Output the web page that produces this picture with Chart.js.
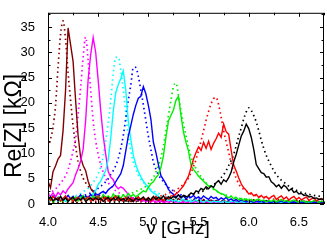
<!DOCTYPE html>
<html>
<head>
<meta charset="utf-8">
<script src="https://cdn.jsdelivr.net/npm/chart.js@4.4.1/dist/chart.umd.min.js"></script>
<style>
  html, body { margin: 0; padding: 0; background: #fff; }
  canvas { display: block; }
</style>
</head>
<body>
<canvas id="reChart" width="327" height="244"></canvas>
<script>
// frequency grid [GHz]
var freq = [
  4, 4.025, 4.05, 4.075, 4.1, 4.125, 4.15, 4.175, 4.2, 4.225,
  4.25, 4.275, 4.3, 4.325, 4.35, 4.375, 4.4, 4.425, 4.45, 4.475,
  4.5, 4.525, 4.55, 4.575, 4.6, 4.625, 4.65, 4.675, 4.7, 4.725,
  4.75, 4.775, 4.8, 4.825, 4.85, 4.875, 4.9, 4.925, 4.95, 4.975,
  5, 5.025, 5.05, 5.075, 5.1, 5.125, 5.15, 5.175, 5.2, 5.225,
  5.25, 5.275, 5.3, 5.325, 5.35, 5.375, 5.4, 5.425, 5.45, 5.475,
  5.5, 5.525, 5.55, 5.575, 5.6, 5.625, 5.65, 5.675, 5.7, 5.725,
  5.75, 5.775, 5.8, 5.825, 5.85, 5.875, 5.9, 5.925, 5.95, 5.975,
  6, 6.025, 6.05, 6.075, 6.1, 6.125, 6.15, 6.175, 6.2, 6.225,
  6.25, 6.275, 6.3, 6.325, 6.35, 6.375, 6.4, 6.425, 6.45, 6.475,
  6.5, 6.525, 6.55, 6.575, 6.6, 6.625, 6.65, 6.675, 6.7, 6.725,
  6.75
];

// measured Re[Z] [kOhm] (solid lines)
var brownMeas = [
  4.5, 3.2, 6.4, 7.5, 8.9, 9.6, 14.5, 22.5, 34.8, 31.5,
  28.2, 20.5, 13.5, 9.2, 7.6, 6.6, 4.5, 3.1, 2.4, 1.6,
  1.5, 1.0, 1.6, 0.9, 1.3, 0.7, 1.2, 1.6, 0.8, 1.1,
  0.6, 1.3, 0.9, 0.5, 1.2, 0.8, 1.4, 0.6, 1.0, 0.7,
  1.1, 0.5, 0.9, 1.3, 0.6, 1.0, 0.4, 0.8, 1.2, 0.6,
  0.9, 0.4, 1.1, 0.7, 0.5, 1.0, 0.6, 0.3, 0.8, 0.5,
  0.7, 0.4, 0.9, 0.3, 0.6, 0.8, 0.4, 0.7, 0.3, 0.5,
  0.8, 0.4, 0.6, 0.3, 0.7, 0.5, 0.3, 0.6, 0.4, 0.7,
  0.3, 0.5, 0.8, 0.4, 0.6, 0.3, 0.5, 0.7, 0.4, 0.3,
  0.6, 0.4, 0.7, 0.3, 0.5, 0.4, 0.6, 0.3, 0.5, 0.7,
  0.4, 0.3, 0.6, 0.4, 0.5, 0.3, 0.6, 0.4, 0.3, 0.5,
  0.4
];
var magentaMeas = [
  2.0, 1.5, 2.2, 1.4, 2.3, 1.8, 2.6, 2.1, 3.0, 3.6,
  4.2, 5.8, 7.0, 8.5, 10.8, 16.5, 24.6, 29.5, 32.9, 30,
  24.5, 18.5, 13.5, 9.8, 6.4, 5.3, 4.8, 3.6, 3.0, 3.4,
  3.1, 2.5, 1.9, 1.4, 1.1, 0.8, 0.9, 0.6, 0.7, 0.5,
  0.6, 0.4, 0.7, 0.3, 0.5, 0.6, 0.3, 0.5, 0.4, 0.6,
  0.3, 0.5, 0.4, 0.2, 0.5, 0.3, 0.6, 0.4, 0.3, 0.5,
  0.2, 0.4, 0.3, 0.5, 0.2, 0.4, 0.3, 0.2, 0.4, 0.3,
  0.5, 0.2, 0.3, 0.4, 0.2, 0.3, 0.5, 0.2, 0.4, 0.3,
  0.2, 0.4, 0.3, 0.2, 0.3, 0.4, 0.2, 0.3, 0.2, 0.4,
  0.3, 0.2, 0.3, 0.4, 0.2, 0.3, 0.2, 0.3, 0.4, 0.2,
  0.3, 0.2, 0.4, 0.2, 0.3, 0.2, 0.3, 0.2, 0.3, 0.2,
  0.3
];
var cyanMeas = [
  0.8, 1.2, 0.6, 1.0, 1.4, 0.7, 1.1, 0.5, 0.9, 1.3,
  0.8, 1.2, 0.7, 1.5, 1.0, 1.4, 1.3, 1.6, 2.0, 2.6,
  3.9, 4.5, 5.6, 6.6, 8.8, 13, 18.3, 22, 23.6, 24.8,
  26.3, 22.5, 16.4, 12.8, 9.6, 7.8, 6.4, 5.4, 4.5, 3.8,
  3.3, 2.6, 2.2, 1.9, 1.5, 1.2, 0.8, 1.1, 0.6, 0.9,
  0.5, 0.8, 0.4, 0.7, 0.9, 0.5, 0.7, 0.4, 0.6, 0.8,
  0.4, 0.6, 0.3, 0.7, 0.5, 0.3, 0.6, 0.4, 0.5, 0.3,
  0.6, 0.4, 0.3, 0.5, 0.6, 0.3, 0.4, 0.5, 0.3, 0.4,
  0.5, 0.3, 0.4, 0.6, 0.3, 0.4, 0.3, 0.5, 0.4, 0.3,
  0.4, 0.5, 0.3, 0.4, 0.3, 0.5, 0.3, 0.4, 0.3, 0.4,
  0.3, 0.4, 0.5, 0.3, 0.4, 0.3, 0.4, 0.3, 0.4, 0.3,
  0.4
];
var blueMeas = [
  1.3, 0.8, 1.6, 1.1, 0.7, 1.4, 0.9, 1.2, 1.7, 1.0,
  1.5, 0.8, 1.3, 1.8, 1.1, 1.6, 1.2, 1.9, 1.4, 2.0,
  1.8, 2.2, 2.5, 2.1, 2.8, 3.2, 3.6, 4.4, 5.2, 6.0,
  7.6, 10.5, 13.4, 15.5, 17.7, 19.5, 20.9, 21.3, 23.2, 21.8,
  19.5, 16.8, 12.2, 10.2, 7.8, 5.6, 4.8, 4.0, 2.9, 2.3,
  1.9, 1.4, 1.8, 1.2, 1.6, 1.0, 1.5, 1.3, 1.7, 1.1,
  1.4, 1.0, 1.6, 1.2, 0.9, 1.5, 1.1, 1.3, 0.8, 1.2,
  0.9, 1.3, 0.7, 1.0, 0.6, 0.9, 0.5, 0.8, 0.6, 0.4,
  0.7, 0.5, 0.3, 0.6, 0.4, 0.5, 0.3, 0.6, 0.4, 0.3,
  0.5, 0.3, 0.4, 0.6, 0.3, 0.4, 0.5, 0.3, 0.4, 0.3,
  0.5, 0.3, 0.4, 0.3, 0.5, 0.3, 0.4, 0.3, 0.4, 0.3,
  0.4
];
var greenMeas = [
  0.6, 1.1, 0.4, 0.9, 1.3, 0.5, 1.0, 1.5, 0.7, 1.2,
  0.8, 1.4, 0.6, 1.1, 1.7, 0.9, 1.3, 0.7, 1.6, 1.0,
  1.4, 0.8, 1.9, 1.2, 1.6, 1.0, 2.0, 1.3, 1.7, 1.1,
  1.8, 1.3, 2.1, 1.5, 1.9, 1.4, 1.8, 2.2, 2.6, 2.4,
  3.3, 4.0, 4.4, 5.2, 5.8, 7.2, 9.5, 13.2, 16.4, 17.5,
  18.6, 20.5, 21.3, 17.5, 14.2, 12.2, 10.5, 7.6, 6.8, 6.2,
  5.5, 5.0, 4.5, 4.0, 3.5, 3.6, 3.0, 2.7, 2.3, 2.0,
  1.9, 1.5, 1.2, 1.6, 1.0, 1.3, 0.8, 1.1, 0.7, 1.0,
  0.6, 0.9, 0.5, 0.8, 1.0, 0.6, 0.8, 0.4, 0.7, 0.5,
  0.8, 0.4, 0.6, 0.9, 0.5, 0.7, 0.4, 0.6, 0.8, 0.5,
  0.4, 0.7, 0.5, 0.3, 0.6, 0.4, 0.7, 0.5, 0.3, 0.6,
  0.4
];
var redMeas = [
  1.2, 0.7, 1.5, 0.9, 1.3, 0.6, 1.1, 1.6, 0.8, 1.2,
  0.5, 1.0, 1.4, 0.7, 1.2, 0.9, 1.5, 0.6, 1.1, 0.8,
  1.3, 0.7, 1.0, 1.4, 0.6, 1.2, 0.8, 1.5, 0.9, 1.1,
  0.6, 1.3, 0.8, 1.2, 0.5, 1.0, 1.4, 0.7, 1.1, 0.9,
  1.3, 0.6, 1.0, 1.5, 0.8, 1.2, 0.7, 1.4, 1.0, 1.6,
  1.6, 2.0, 2.4, 3.0, 3.6, 4.6, 5.5, 7.2, 8.9, 10.2,
  11.3, 10.6, 12.2, 11.0, 12.4, 10.8, 12.0, 12.9, 14.0, 13.2,
  15.8, 14.3, 13.8, 10.6, 7.7, 6.5, 5.2, 4.0, 3.2, 2.7,
  2.0, 2.2, 1.6, 1.9, 1.3, 1.7, 1.2, 1.5, 1.0, 1.4,
  1.7, 0.9, 1.3, 1.6, 1.0, 1.4, 0.8, 1.2, 1.5, 0.9,
  1.3, 0.8, 1.1, 1.4, 0.7, 1.0, 1.2, 0.6, 0.9, 1.1,
  0.7
];
var blackMeas = [
  0.9, 1.4, 0.6, 1.1, 0.8, 1.5, 0.7, 1.2, 0.5, 1.0,
  1.3, 0.6, 1.1, 0.8, 1.4, 0.5, 0.9, 1.2, 0.7, 1.3,
  0.8, 1.1, 0.5, 1.0, 1.3, 0.6, 1.2, 0.8, 1.4, 0.7,
  1.1, 0.6, 1.3, 0.9, 0.5, 1.2, 0.8, 1.0, 1.4, 0.7,
  1.2, 0.8, 1.5, 0.9, 1.3, 1.0, 1.6, 0.9, 1.4, 1.1,
  1.5, 1.2, 1.8, 1.3, 1.7, 1.4, 1.6, 2.2, 1.9, 2.6,
  2.4, 3.1, 2.8, 3.4, 3.0, 3.6, 3.3, 4.2, 4.6, 3.9,
  4.8, 4.4, 5.2, 6.3, 8.3, 9.8, 11.6, 13.4, 14.4, 15.8,
  14.9, 13.2, 10.8, 7.8, 7.0, 6.2, 6.0, 5.3, 5.4, 4.4,
  4.0, 3.4, 3.8, 3.1, 3.7, 3.3, 2.6, 3.0, 2.3, 2.5,
  2.0, 2.1, 1.7, 1.8, 1.4, 1.5, 1.1, 1.2, 0.9, 1.0,
  0.8
];

// simulated Re[Z] [kOhm] (dotted lines)
var brownModel = [
  11.2, 12.8, 15.2, 19.5, 27, 33.5, 36.2, 32.5, 26, 20.5,
  15.5, 11.5, 8.3, 6.5, 5.1, 4.2, 3.5, 3.0, 2.5, 2.1,
  1.8, 1.6, 1.4, 1.25, 1.1, 1.0, 0.9, 0.82, 0.75, 0.7,
  0.64, 0.6, 0.56, 0.52, 0.49, 0.46, 0.43, 0.41, 0.39, 0.37,
  0.35, 0.34, 0.32, 0.31, 0.3, 0.29, 0.28, 0.27, 0.26, 0.25,
  0.24, 0.23, 0.23, 0.22, 0.21, 0.21, 0.2, 0.2, 0.19, 0.19,
  0.18, 0.18, 0.17, 0.17, 0.17, 0.16, 0.16, 0.16, 0.15, 0.15,
  0.15, 0.14, 0.14, 0.14, 0.14, 0.13, 0.13, 0.13, 0.13, 0.12,
  0.12, 0.12, 0.12, 0.12, 0.11, 0.11, 0.11, 0.11, 0.11, 0.1,
  0.1, 0.1, 0.1, 0.1, 0.1, 0.095, 0.095, 0.095, 0.095, 0.095,
  0.09, 0.09, 0.09, 0.09, 0.09, 0.09, 0.09, 0.09, 0.09, 0.09,
  0.09
];
var magentaModel = [
  2.0, 2.3, 2.6, 3.0, 3.5, 4.1, 4.8, 5.6, 6.8, 8.5,
  10.5, 12.8, 17.7, 23, 29, 33, 28.4, 22.5, 16.5, 12.5,
  9.8, 7.8, 6.3, 5.1, 4.2, 3.6, 3.0, 2.6, 2.3, 2.0,
  1.8, 1.6, 1.4, 1.25, 1.1, 1.0, 0.9, 0.82, 0.75, 0.7,
  0.64, 0.6, 0.56, 0.52, 0.49, 0.46, 0.43, 0.41, 0.39, 0.37,
  0.35, 0.34, 0.32, 0.31, 0.3, 0.29, 0.28, 0.27, 0.26, 0.25,
  0.24, 0.23, 0.23, 0.22, 0.21, 0.21, 0.2, 0.2, 0.19, 0.19,
  0.18, 0.18, 0.17, 0.17, 0.17, 0.16, 0.16, 0.16, 0.15, 0.15,
  0.15, 0.14, 0.14, 0.14, 0.14, 0.13, 0.13, 0.13, 0.13, 0.12,
  0.12, 0.12, 0.12, 0.12, 0.11, 0.11, 0.11, 0.11, 0.11, 0.11,
  0.11, 0.1, 0.1, 0.1, 0.1, 0.1, 0.1, 0.1, 0.1, 0.1,
  0.1
];
var cyanModel = [
  0.5, 0.55, 0.6, 0.65, 0.7, 0.8, 0.9, 1.0, 1.1, 1.25,
  1.4, 1.6, 1.8, 2.1, 2.4, 2.8, 3.1, 3.6, 4.3, 5.0,
  6.0, 7.3, 9.5, 12.5, 16, 20.5, 25.8, 29, 29, 26.5,
  22.5, 18, 13.4, 10.5, 8.3, 6.9, 5.7, 4.9, 4.3, 3.8,
  3.3, 2.9, 2.6, 2.3, 2.1, 1.9, 1.7, 1.55, 1.45, 1.35,
  1.25, 1.15, 1.07, 1.0, 0.94, 0.88, 0.83, 0.78, 0.74, 0.7,
  0.66, 0.63, 0.6, 0.57, 0.54, 0.52, 0.5, 0.48, 0.46, 0.44,
  0.42, 0.41, 0.39, 0.38, 0.37, 0.36, 0.35, 0.34, 0.33, 0.32,
  0.31, 0.3, 0.29, 0.28, 0.28, 0.27, 0.26, 0.26, 0.25, 0.25,
  0.24, 0.24, 0.23, 0.23, 0.22, 0.22, 0.21, 0.21, 0.2, 0.2,
  0.2, 0.19, 0.19, 0.19, 0.18, 0.18, 0.18, 0.17, 0.17, 0.17,
  0.17
];
var blueModel = [
  0.4, 0.45, 0.5, 0.55, 0.6, 0.65, 0.7, 0.75, 0.8, 0.9,
  1.0, 1.1, 1.25, 1.4, 1.6, 1.8, 2.0, 2.2, 2.5, 2.8,
  3.1, 3.5, 3.9, 4.4, 5.0, 5.8, 6.6, 7.6, 9.0, 11,
  13.5, 17, 20.5, 23.5, 27, 27, 25.2, 22.5, 19.6, 16.5,
  13.4, 10.8, 8.3, 6.9, 5.8, 5.0, 4.4, 3.8, 3.3, 2.9,
  2.6, 2.3, 2.0, 1.8, 1.6, 1.45, 1.3, 1.2, 1.1, 1.0,
  0.95, 0.88, 0.82, 0.77, 0.72, 0.68, 0.64, 0.6, 0.57, 0.54,
  0.51, 0.49, 0.47, 0.45, 0.43, 0.41, 0.39, 0.38, 0.36, 0.35,
  0.34, 0.33, 0.32, 0.31, 0.3, 0.29, 0.28, 0.27, 0.27, 0.26,
  0.25, 0.25, 0.24, 0.23, 0.23, 0.22, 0.22, 0.21, 0.21, 0.2,
  0.2, 0.2, 0.19, 0.19, 0.18, 0.18, 0.18, 0.17, 0.17, 0.17,
  0.16
];
var greenModel = [
  0.3, 0.3, 0.35, 0.35, 0.4, 0.4, 0.45, 0.5, 0.5, 0.55,
  0.6, 0.65, 0.7, 0.75, 0.8, 0.85, 0.9, 0.95, 1.0, 1.0,
  1.0, 1.05, 1.1, 1.2, 1.25, 1.3, 1.4, 1.5, 1.6, 1.7,
  1.8, 1.9, 2.0, 2.1, 2.3, 2.5, 2.7, 2.9, 3.2, 3.5,
  4.0, 4.6, 5.3, 6.3, 7.6, 9.2, 11.5, 14.5, 17.5, 20.5,
  23.2, 23.9, 21.5, 18.5, 15.8, 13.5, 11.2, 9.4, 7.9, 7.0,
  6.2, 5.4, 4.8, 4.2, 3.7, 3.3, 2.9, 2.6, 2.3, 2.1,
  1.9, 1.75, 1.6, 1.45, 1.35, 1.25, 1.15, 1.05, 1.0, 0.95,
  0.9, 0.85, 0.8, 0.75, 0.7, 0.66, 0.62, 0.58, 0.55, 0.52,
  0.5, 0.48, 0.46, 0.44, 0.42, 0.4, 0.38, 0.36, 0.35, 0.34,
  0.33, 0.32, 0.31, 0.3, 0.29, 0.28, 0.27, 0.26, 0.25, 0.25,
  0.24
];
var redModel = [
  0.2, 0.2, 0.22, 0.22, 0.24, 0.25, 0.26, 0.27, 0.28, 0.3,
  0.31, 0.32, 0.34, 0.36, 0.38, 0.4, 0.42, 0.44, 0.46, 0.48,
  0.5, 0.52, 0.54, 0.56, 0.58, 0.6, 0.62, 0.65, 0.68, 0.7,
  0.72, 0.75, 0.78, 0.8, 0.83, 0.86, 0.89, 0.92, 0.95, 0.98,
  1.0, 1.1, 1.2, 1.3, 1.45, 1.6, 1.75, 1.9, 2.1, 2.3,
  2.5, 2.8, 3.1, 3.5, 3.9, 4.4, 5.1, 6.2, 7.4, 8.8,
  10.6, 12.5, 14.5, 16.5, 18.3, 19.8, 20.8, 21.1, 19.6, 17.2,
  14.5, 12.3, 10.2, 8.1, 6.4, 5.1, 4.0, 3.3, 2.9, 2.6,
  2.2, 2.0, 1.8, 1.65, 1.5, 1.4, 1.3, 1.2, 1.1, 1.0,
  0.95, 0.9, 0.85, 0.8, 0.75, 0.7, 0.66, 0.62, 0.58, 0.55,
  0.52, 0.5, 0.48, 0.46, 0.44, 0.42, 0.4, 0.38, 0.37, 0.36,
  0.35
];
var blackModel = [
  0.15, 0.15, 0.16, 0.16, 0.17, 0.17, 0.18, 0.18, 0.19, 0.19,
  0.2, 0.2, 0.21, 0.22, 0.22, 0.23, 0.24, 0.25, 0.26, 0.27,
  0.28, 0.29, 0.3, 0.31, 0.33, 0.34, 0.36, 0.38, 0.4, 0.42,
  0.44, 0.46, 0.48, 0.5, 0.53, 0.56, 0.59, 0.62, 0.66, 0.7,
  0.74, 0.78, 0.82, 0.86, 0.9, 0.95, 1.0, 1.05, 1.1, 1.15,
  1.2, 1.3, 1.4, 1.5, 1.6, 1.7, 1.8, 1.9, 2.0, 2.1,
  2.2, 2.4, 2.6, 2.9, 3.2, 3.5, 3.8, 4.2, 4.6, 5.2,
  5.8, 6.6, 7.6, 8.6, 9.8, 11.5, 13.4, 15, 16.8, 18.2,
  19.0, 18.5, 17.5, 16.2, 14.5, 12.6, 11.0, 9.6, 8.5, 7.5,
  6.6, 5.8, 5.2, 4.7, 4.3, 3.9, 3.5, 3.2, 2.9, 2.7,
  2.5, 2.3, 2.2, 2.0, 1.9, 1.8, 1.7, 1.6, 1.55, 1.5,
  1.45
];

var xTitle = 'ν [GHz]';
var yTitle = 'Re[Z] [kΩ]';

// styles
var lineColors = {
  brown: '#800000', magenta: '#ff00ff', cyan: '#00ffff', blue: '#0000ff',
  green: '#00ee00', red: '#ff0000', black: '#000000'
};
var tickFont = { family: '"Liberation Sans", Arial, sans-serif', size: 13 };

function pts(vals) {
  return freq.map(function (f, i) { return { x: f, y: vals[i] }; });
}

function meas(vals, color) {
  return { data: pts(vals), borderColor: color, borderWidth: 1.4, pointRadius: 0, tension: 0, fill: false };
}

function model(vals, color) {
  return {
    data: pts(vals), borderColor: color, borderWidth: 1.7, borderDash: [1.5, 3.2],
    pointRadius: 0, cubicInterpolationMode: 'monotone', fill: false
  };
}

// first dataset is drawn on top
var datasets = [
  meas(blackMeas, lineColors.black),
  meas(redMeas, lineColors.red),
  meas(greenMeas, lineColors.green),
  meas(blueMeas, lineColors.blue),
  meas(cyanMeas, lineColors.cyan),
  meas(magentaMeas, lineColors.magenta),
  meas(brownMeas, lineColors.brown),
  model(blackModel, lineColors.black),
  model(redModel, lineColors.red),
  model(greenModel, lineColors.green),
  model(blueModel, lineColors.blue),
  model(cyanModel, lineColors.cyan),
  model(magentaModel, lineColors.magenta),
  model(brownModel, lineColors.brown)
];

function onStep(v, step) {
  var r = v / step;
  return Math.abs(r - Math.round(r)) < 1e-6;
}

// box, inward ticks on all sides, axis titles
var framePlugin = {
  id: 'framePlugin',
  afterDatasetsDraw: function (chart) {
    var ctx = chart.ctx, a = chart.chartArea;
    var sx = chart.scales.x, sy = chart.scales.y;
    ctx.save();
    ctx.strokeStyle = '#000';
    ctx.lineWidth = 1;
    ctx.strokeRect(a.left + 0.5, a.top + 0.5, a.right - a.left - 1, a.bottom - a.top - 1);
    ctx.beginPath();
    sx.ticks.forEach(function (t) {
      if (!onStep(t.value, 0.25)) return;
      var len = onStep(t.value, 0.5) ? 4 : 2.5;
      var p = Math.round(sx.getPixelForValue(t.value)) + 0.5;
      ctx.moveTo(p, a.bottom); ctx.lineTo(p, a.bottom - len);
      ctx.moveTo(p, a.top); ctx.lineTo(p, a.top + len);
    });
    sy.ticks.forEach(function (t) {
      if (!onStep(t.value, 2.5)) return;
      var len = onStep(t.value, 5) ? 4 : 2.5;
      var p = Math.round(sy.getPixelForValue(t.value)) + 0.5;
      ctx.moveTo(a.left, p); ctx.lineTo(a.left + len, p);
      ctx.moveTo(a.right, p); ctx.lineTo(a.right - len, p);
    });
    ctx.stroke();

    ctx.fillStyle = '#000';
    ctx.textAlign = 'center';
    ctx.textBaseline = 'middle';
    ctx.font = '19px "Liberation Sans", Arial, sans-serif';
    ctx.fillText(xTitle, 178, 229);
    ctx.font = '23px "Liberation Sans", Arial, sans-serif';
    ctx.translate(15, 126);
    ctx.rotate(-Math.PI / 2);
    ctx.fillText(yTitle, 0, 0);
    ctx.restore();
  }
};

var ctx = document.getElementById('reChart').getContext('2d');

var chart = new Chart(ctx, {
  type: 'line',
  data: { datasets: datasets },
  options: {
    responsive: false,
    animation: false,
    devicePixelRatio: 1,
    layout: { padding: { top: 3, right: 2, left: 0, bottom: 0 } },
    scales: {
      x: {
        type: 'linear',
        min: 4,
        max: 6.75,
        grid: { display: false },
        border: { display: false },
        afterFit: function (s) { s.height = 40; },
        ticks: {
          stepSize: 0.25,
          includeBounds: false,
          autoSkip: false,
          maxRotation: 0,
          padding: 3,
          color: '#000',
          font: tickFont,
          callback: function (v) { return onStep(v, 0.5) ? v.toFixed(1) : ''; }
        }
      },
      y: {
        min: 0,
        max: 37.8,
        grid: { display: false },
        border: { display: false },
        afterFit: function (s) { s.width = 48; },
        ticks: {
          stepSize: 2.5,
          includeBounds: false,
          autoSkip: false,
          padding: 5,
          color: '#000',
          font: tickFont,
          callback: function (v) { return onStep(v, 5) ? String(v) : ''; }
        }
      }
    },
    plugins: {
      legend: { display: false },
      tooltip: { enabled: false }
    }
  },
  plugins: [framePlugin]
});
</script>
</body>
</html>
